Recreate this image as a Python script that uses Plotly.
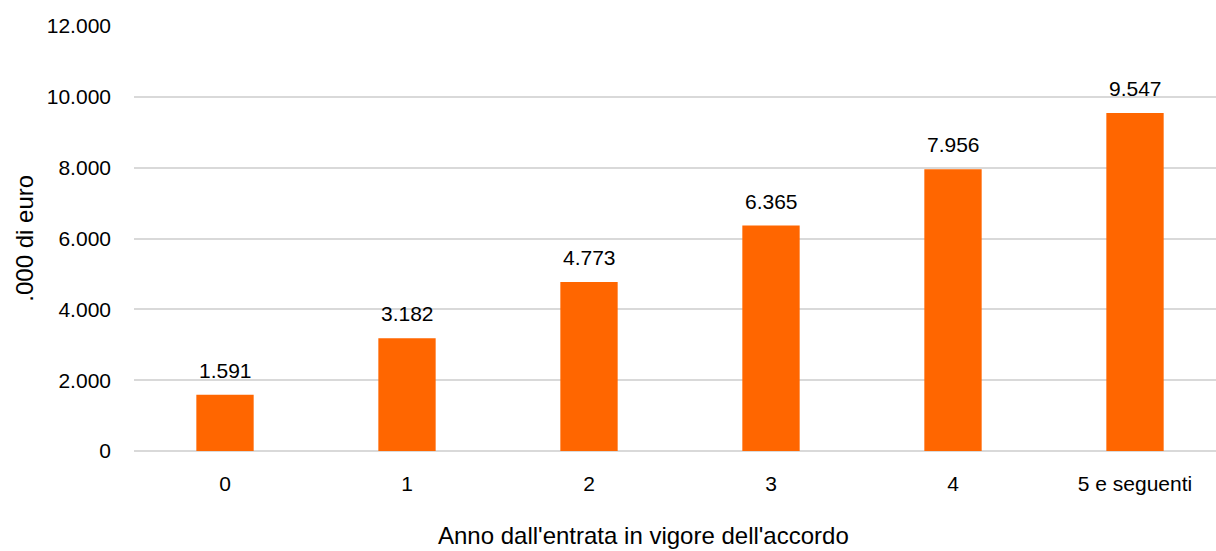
import plotly.graph_objects as go

categories = ["0", "1", "2", "3", "4", "5 e seguenti"]
values = [1591, 3182, 4773, 6365, 7956, 9547]
value_labels = ["1.591", "3.182", "4.773", "6.365", "7.956", "9.547"]
y_tickvals = [0, 2000, 4000, 6000, 8000, 10000, 12000]
y_ticktext = ["0", "2.000", "4.000", "6.000", "8.000", "10.000", "12.000"]

FONT = "Liberation Sans, Arial, sans-serif"

fig = go.Figure()
fig.add_trace(go.Bar(
    x=categories, y=values, width=0.315,
    marker=dict(color="#FF6600", line=dict(width=0)),
    hoverinfo="skip",
))

for c, v, t in zip(categories, values, value_labels):
    fig.add_annotation(x=c, y=v, text=t, showarrow=False, xref="x", yref="y",
                       yanchor="bottom", yshift=11,
                       font=dict(family=FONT, size=21, color="#000000"))

fig.add_annotation(x=(643 - 134) / 1082, xref="paper", y=-0.198, yref="paper",
                   text="Anno dall'entrata in vigore dell'accordo", showarrow=False,
                   xanchor="center", yanchor="middle",
                   font=dict(family=FONT, size=24, color="#000000"))
fig.add_annotation(x=-0.1015, xref="paper", y=0.5, yref="paper",
                   text=".000 di euro", showarrow=False, textangle=-90,
                   xanchor="center", yanchor="middle",
                   font=dict(family=FONT, size=24, color="#000000"))

fig.update_layout(
    width=1216, height=551,
    margin=dict(l=134, r=0, t=26, b=100),
    paper_bgcolor="white", plot_bgcolor="white",
    showlegend=False,
    font=dict(family=FONT, size=21, color="#000000"),
)
fig.update_xaxes(
    type="category", range=[-0.5, -0.5 + 1082 / 182],
    showgrid=False, showline=False, zeroline=False,
    ticks="", ticklabelstandoff=18,
    tickfont=dict(family=FONT, size=21, color="#000000"),
)
fig.update_yaxes(
    range=[0, 12000], tickvals=y_tickvals, ticktext=y_ticktext,
    showgrid=True, gridcolor="#d9d9d9", gridwidth=1.5,
    zeroline=True, zerolinecolor="#d9d9d9", zerolinewidth=1.5,
    showline=False, ticks="", ticklabelstandoff=22,
    tickfont=dict(family=FONT, size=21, color="#000000"),
)

fig.write_html("out.html")
